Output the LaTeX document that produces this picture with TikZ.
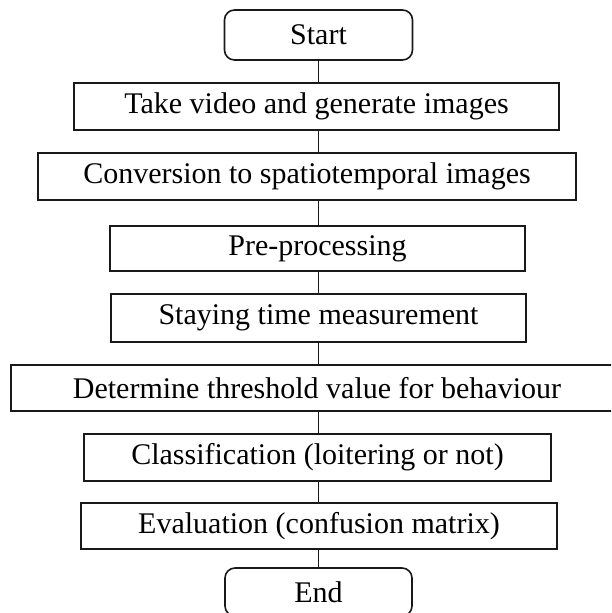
\documentclass[tikz,border=0pt]{standalone}
\usepackage{fontspec}
\setmainfont{Liberation Serif}
\begin{document}
\begin{tikzpicture}[x=1pt,y=-1pt,
  box/.style={draw=black!90, line width=1.6pt, inner sep=0pt, outer sep=0pt,
    font=\fontsize{30}{36}\selectfont, text=black},
  term/.style={box, rounded corners=10pt}]
\useasboundingbox (0,0) rectangle (611,613);
\clip (0,0) rectangle (611,613);
\node[term, minimum width=188pt, minimum height=50pt] (start) at (318.5,35) {Start};
\node[box, minimum width=485pt, minimum height=47pt] (take) at (316.5,106.5) {Take video and generate images};
\node[box, minimum width=538pt, minimum height=47pt] (conv) at (307,176.5) {Conversion to spatiotemporal images};
\node[box, minimum width=415pt, minimum height=45pt] (pre) at (317.5,248.5) {Pre-processing};
\node[box, minimum width=415pt, minimum height=48pt] (stay) at (318.5,318) {Staying time measurement};
\node[box, minimum width=612pt, minimum height=46pt] (det) at (317,388) {Determine threshold value for behaviour};
\node[box, minimum width=467pt, minimum height=47pt] (cls) at (317.5,457.5) {Classification (loitering or not)};
\node[box, minimum width=476pt, minimum height=46pt] (eval) at (319,526) {Evaluation (confusion matrix)};
\node[term, minimum width=187pt, minimum height=48pt] (end) at (318.5,592) {End};
\foreach \a/\b in {start/take,take/conv,conv/pre,pre/stay,stay/det,det/cls,cls/eval,eval/end}{
  \draw[line width=1.6pt, black!90] (\a.south -| start.center) -- (\b.north -| start.center);
}
\end{tikzpicture}
\end{document}
